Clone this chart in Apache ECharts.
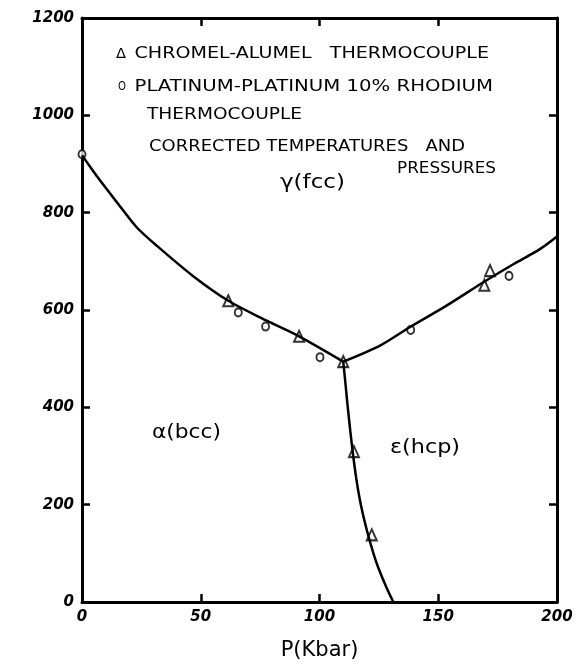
<!DOCTYPE html>
<html>
<head>
<meta charset="utf-8">
<script src="https://cdn.jsdelivr.net/npm/echarts@6/dist/echarts.min.js"></script>
<style>
  html, body { margin: 0; padding: 0; background: #fff; }
  #chart { width: 576px; height: 666px; }
</style>
</head>
<body>
<div id="chart"></div>
<script>
// Phase diagram of iron: temperature (°C) against pressure (kbar)

// Axis ticks and their labels
const pressureTicks = [0, 50, 100, 150, 200];
const pressureLabels = ['0', '50', '100', '150', '200'];
const tempTicks = [0, 200, 400, 600, 800, 1000, 1200];
const tempLabels = ['0', '200', '400', '600', '800', '1000', '1200'];

// alpha(bcc) / gamma(fcc) boundary
const bccFccP = [0, 1.3, 7, 14.6, 23, 31.5, 46.7, 61.6, 77.8, 91.4, 110];
const bccFccT = [918, 909, 870, 822, 770, 732, 670, 619, 578, 546, 494];

// gamma(fcc) / epsilon(hcp) boundary
const fccHcpP = [110, 125.5, 138.1, 153.5, 169, 181.6, 192.8, 200];
const fccHcpT = [494, 527, 565, 609, 657, 694, 725, 751];

// alpha(bcc) / epsilon(hcp) boundary
const bccHcpP = [110, 110.9, 111.9, 113, 114.2, 115.6, 117.4, 119.8, 122.7, 124.8, 128.2, 131.1];
const bccHcpT = [494, 450, 400, 350, 300, 250, 200, 150, 100, 70, 30, 0];

// Measured points: chromel-alumel thermocouple
const chromelP = [61.6, 91.4, 110, 114.5, 122, 169.4, 171.8];
const chromelT = [619, 546, 494, 309, 138, 651, 681];

// Measured points: platinum / platinum-10% rhodium thermocouple
const platinumP = [0, 65.8, 77.3, 100.2, 138.4, 179.8];
const platinumT = [920, 595, 566, 503, 559, 670];

const pairs = (xs, ys) => xs.map((x, i) => [x, ys[i]]);

const INK = '#000';
const FONT = 'DejaVu Sans';

// Text stretched horizontally to span [x0, x1], vertically centred on yc
const measureCtx = document.createElement('canvas').getContext('2d');
function handText(text, x0, x1, yc, size) {
  measureCtx.font = size + 'px "' + FONT + '"';
  const w = measureCtx.measureText(text).width;
  return {
    type: 'text',
    x: x0,
    y: yc,
    scaleX: (x1 - x0) / w,
    silent: true,
    style: {
      text: text,
      fontFamily: FONT,
      fontSize: size,
      fill: INK,
      align: 'left',
      verticalAlign: 'middle'
    }
  };
}

const tickLabelStyle = {
  color: INK,
  fontFamily: FONT,
  fontStyle: 'italic',
  fontWeight: 'bold',
  fontSize: 15
};

function makeAxis(position, ticks, labels, showLabels, extra) {
  return Object.assign({
    type: 'value',
    position: position,
    min: ticks[0],
    max: ticks[ticks.length - 1],
    interval: ticks[1] - ticks[0],
    axisLine: { show: true, onZero: false, lineStyle: { color: INK, width: 3 } },
    axisTick: { show: true, inside: true, length: 8, lineStyle: { color: INK, width: 2.5 } },
    splitLine: { show: false },
    axisLabel: Object.assign({
      show: showLabels,
      margin: 8,
      formatter: v => labels[ticks.indexOf(v)]
    }, tickLabelStyle)
  }, extra || {});
}

const lineStyle = { color: INK, width: 2.5 };

const chart = echarts.init(document.getElementById('chart'), null, { renderer: 'canvas' });
chart.setOption({
  animation: false,
  backgroundColor: '#fff',
  grid: { left: 82, right: 19, top: 18, bottom: 62 },
  xAxis: [
    makeAxis('bottom', pressureTicks, pressureLabels, true, {
      name: 'P(Kbar)',
      nameLocation: 'middle',
      nameGap: 38,
      nameTextStyle: { color: INK, fontFamily: FONT, fontSize: 21 }
    }),
    makeAxis('top', pressureTicks, pressureLabels, false)
  ],
  yAxis: [
    makeAxis('left', tempTicks, tempLabels, true),
    makeAxis('right', tempTicks, tempLabels, false)
  ],
  series: [
    {
      type: 'line', data: pairs(bccFccP, bccFccT), smooth: 0.3,
      showSymbol: false, lineStyle: lineStyle, clip: false, silent: true
    },
    {
      type: 'line', data: pairs(fccHcpP, fccHcpT), smooth: 0.3,
      showSymbol: false, lineStyle: lineStyle, clip: false, silent: true
    },
    {
      type: 'line', data: pairs(bccHcpP, bccHcpT), smooth: 0.3,
      showSymbol: false, lineStyle: lineStyle, clip: false, silent: true
    },
    {
      type: 'scatter', data: pairs(chromelP, chromelT),
      symbol: 'emptyTriangle', symbolSize: [10, 11], clip: false, silent: true,
      itemStyle: { color: INK, borderColor: INK, borderWidth: 2.2 }
    },
    {
      type: 'scatter', data: pairs(platinumP, platinumT),
      symbol: 'emptyCircle', symbolSize: [7, 8], clip: false, silent: true,
      itemStyle: { color: INK, borderColor: INK, borderWidth: 2.2 }
    }
  ],
  graphic: [
    handText('\u0394', 116, 126, 54, 14),
    handText('CHROMEL-ALUMEL   THERMOCOUPLE', 134.5, 489, 54, 16),
    handText('O', 118, 126, 87, 13),
    handText('PLATINUM-PLATINUM 10% RHODIUM', 134.5, 493, 87, 16),
    handText('THERMOCOUPLE', 147, 302, 115, 16),
    handText('CORRECTED TEMPERATURES   AND', 149, 465, 147, 16),
    handText('PRESSURES', 397, 496, 169, 16),
    handText('\u03B3(fcc)', 280, 345, 183, 20),
    handText('\u03B1(bcc)', 152, 221, 433, 20),
    handText('\u03B5(hcp)', 390, 460, 448, 20)
  ]
});
</script>
</body>
</html>
